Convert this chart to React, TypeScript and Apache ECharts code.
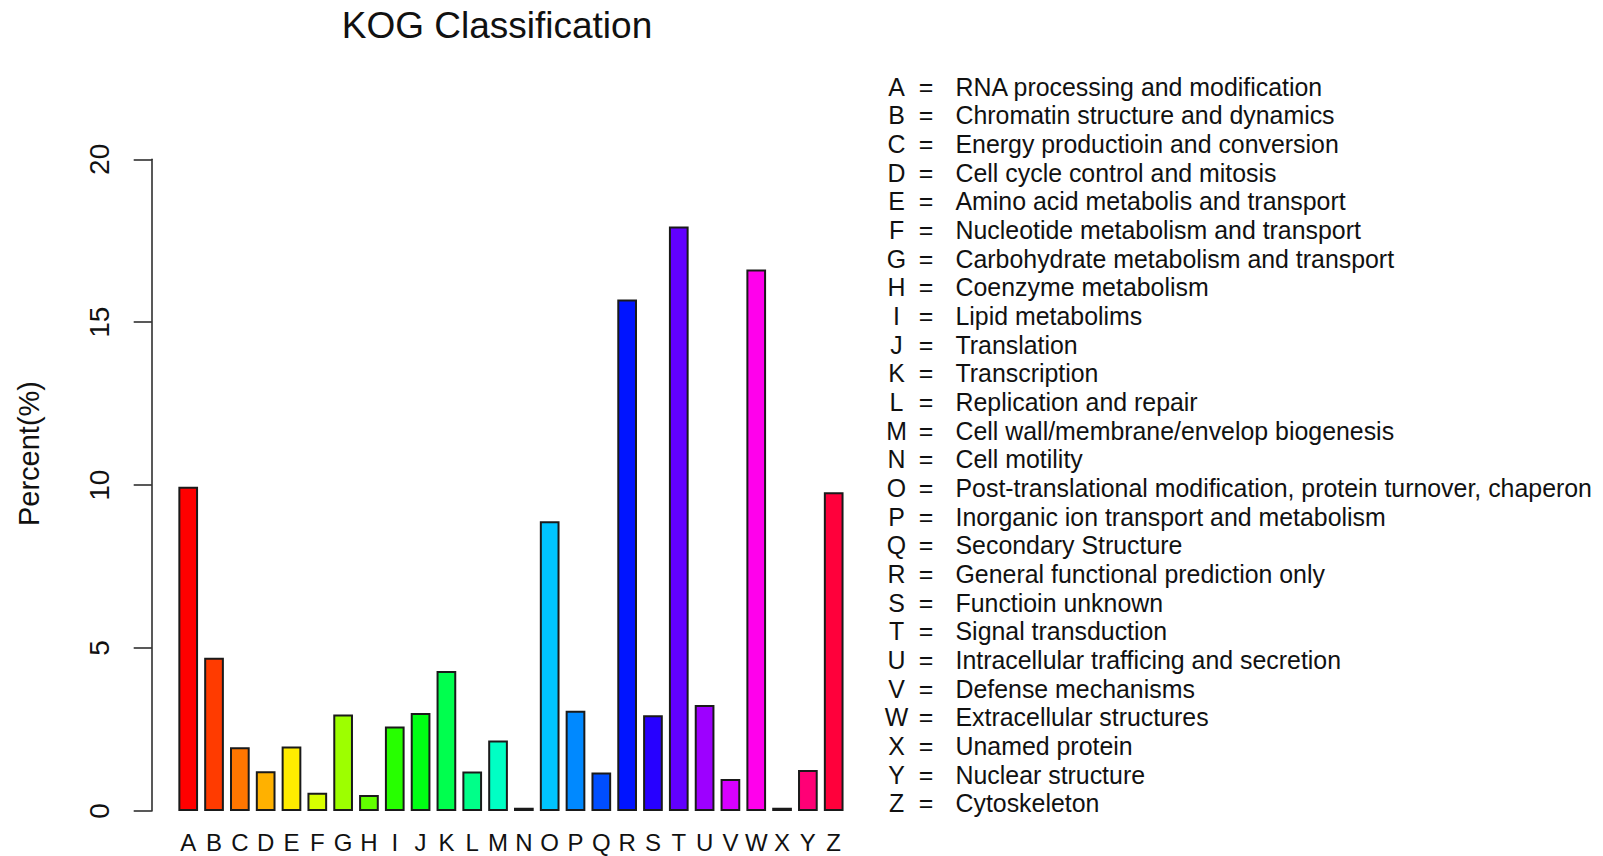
import React, { useEffect, useRef } from "react";
import * as echarts from "echarts";

// KOG functional classes
const categories = [
  "A", "B", "C", "D", "E", "F", "G", "H", "I", "J", "K", "L", "M",
  "N", "O", "P", "Q", "R", "S", "T", "U", "V", "W", "X", "Y", "Z",
];

// Share of annotated genes in each class (%)
const percents = [
  9.95, 4.7, 1.96, 1.22, 1.98, 0.56, 2.96, 0.49, 2.59, 3.01, 4.3, 1.21, 2.16,
  0.1, 8.89, 3.08, 1.18, 15.7, 2.94, 17.94, 3.25, 0.98, 16.62, 0.1, 1.26, 9.78,
];

const descriptions = [
  "RNA processing and modification",
  "Chromatin structure and dynamics",
  "Energy productioin and conversion",
  "Cell cycle control and mitosis",
  "Amino acid metabolis and transport",
  "Nucleotide metabolism and transport",
  "Carbohydrate metabolism and transport",
  "Coenzyme metabolism",
  "Lipid metabolims",
  "Translation",
  "Transcription",
  "Replication and repair",
  "Cell wall/membrane/envelop biogenesis",
  "Cell motility",
  "Post-translational modification, protein turnover, chaperon",
  "Inorganic ion transport and metabolism",
  "Secondary Structure",
  "General functional prediction only",
  "Functioin unknown",
  "Signal transduction",
  "Intracellular trafficing and secretion",
  "Defense mechanisms",
  "Extracellular structures",
  "Unamed protein",
  "Nuclear structure",
  "Cytoskeleton",
];

const yMin = 0;
const yMax = 20;
const yStep = 5;

// Rainbow palette, one hue per class
const barColors = [
  "#FF0000", "#FF3B00", "#FF7600", "#FFB100", "#FFEC00", "#D8FF00", "#9DFF00",
  "#62FF00", "#27FF00", "#00FF14", "#00FF4E", "#00FF89", "#00FFC4", "#00FFFF",
  "#00C4FF", "#0089FF", "#004EFF", "#0014FF", "#2700FF", "#6200FF", "#9D00FF",
  "#D800FF", "#FF00EC", "#FF00B1", "#FF0076", "#FF003B",
];

const FONT = '"Liberation Sans", Arial, Helvetica, sans-serif';
const INK = "#111";
const LEGEND_FONT = `24.9px ${FONT}`;

export default function App() {
  const ref = useRef<HTMLDivElement>(null);

  useEffect(() => {
    if (!ref.current) return;
    const chart = echarts.init(ref.current, null, { renderer: "svg" });

    const legendTop = 86.7;
    const legendStep = 28.66;
    const legendItems: any[] = [];
    categories.forEach((c, i) => {
      const y = legendTop + i * legendStep;
      legendItems.push(
        {
          type: "text",
          x: 896.5,
          y,
          style: { text: c, font: LEGEND_FONT, fill: INK, align: "center", verticalAlign: "middle" },
        },
        {
          type: "text",
          x: 926,
          y,
          style: { text: "=", font: LEGEND_FONT, fill: INK, align: "center", verticalAlign: "middle" },
        },
        {
          type: "text",
          x: 955.5,
          y,
          style: { text: descriptions[i], font: LEGEND_FONT, fill: INK, align: "left", verticalAlign: "middle" },
        }
      );
    });

    const option: any = {
      animation: false,
      backgroundColor: "#ffffff",
      textStyle: { fontFamily: FONT },
      grid: { left: 175.3, right: 756.4, top: 159.3, bottom: 45 },
      xAxis: {
        type: "category",
        data: categories,
        axisLine: { show: false },
        axisTick: { show: false },
        axisLabel: { interval: 0, fontSize: 24, margin: 19, color: INK, fontFamily: FONT },
        splitLine: { show: false },
      },
      yAxis: {
        type: "value",
        min: yMin,
        max: yMax,
        interval: yStep,
        offset: 23.6,
        axisLine: { show: true, lineStyle: { color: "#222", width: 1.5 } },
        axisTick: { show: true, length: 18, lineStyle: { color: "#222", width: 1.5 } },
        axisLabel: { rotate: 90, margin: 38, fontSize: 28, color: INK, fontFamily: FONT },
        splitLine: { show: false },
      },
      series: [
        {
          type: "bar",
          barWidth: 19.7,
          data: percents.map((v, i) => ({
            value: v,
            itemStyle: { color: barColors[i], borderColor: "#1a1a1a", borderWidth: 2 },
          })),
        },
      ],
      graphic: [
        {
          type: "text",
          x: 497,
          y: 25,
          style: {
            text: "KOG Classification",
            font: `37px ${FONT}`,
            fill: INK,
            align: "center",
            verticalAlign: "middle",
          },
        },
        {
          type: "text",
          x: 29,
          y: 453.5,
          rotation: Math.PI / 2,
          style: {
            text: "Percent(%)",
            font: `29px ${FONT}`,
            fill: INK,
            align: "center",
            verticalAlign: "middle",
          },
        },
        ...legendItems,
      ],
    };

    chart.setOption(option);
    return () => chart.dispose();
  }, []);

  return (
    <div
      ref={ref}
      style={{ position: "fixed", left: 0, top: 0, width: 1603, height: 856, background: "#fff" }}
    />
  );
}
